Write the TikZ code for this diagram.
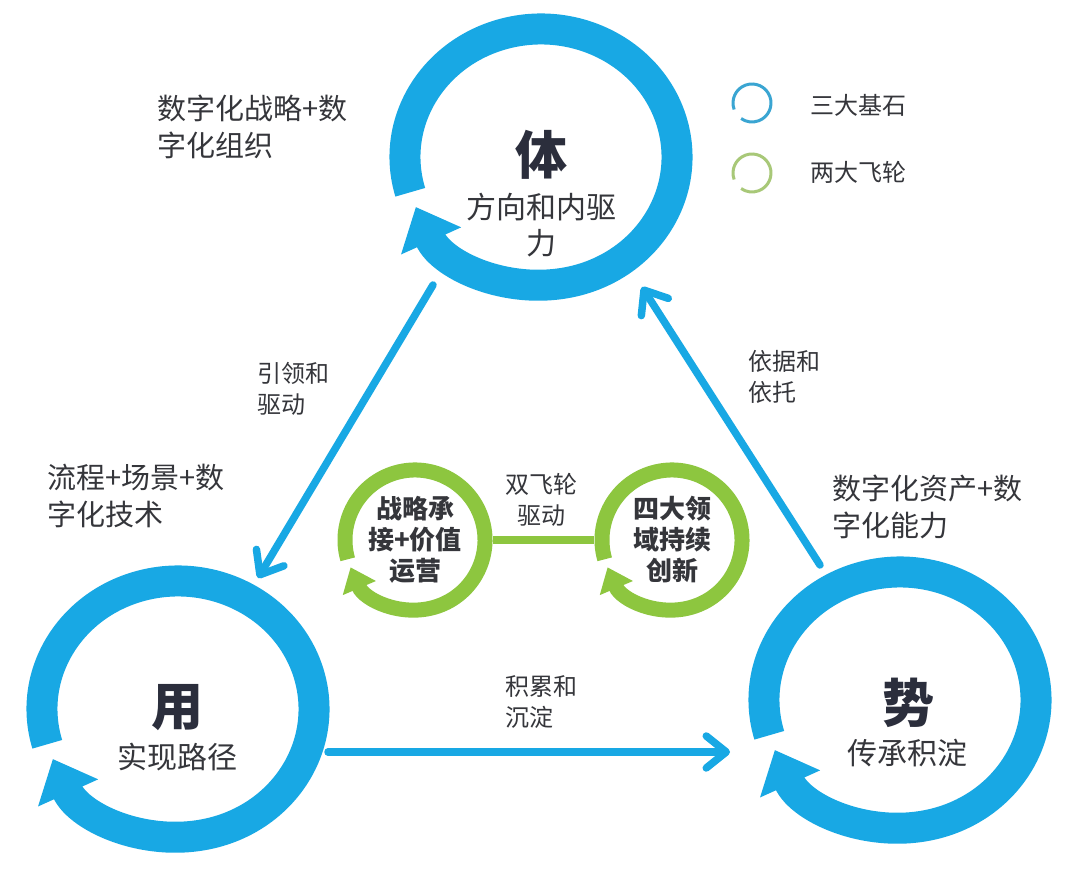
\documentclass[tikz,border=0pt]{standalone}
\usepackage{fontspec}
\setmainfont{Noto Sans CJK SC}
\usetikzlibrary{arrows.meta,calc}
\definecolor{Ink}{HTML}{35363B}
\definecolor{InkDark}{HTML}{2B2E3C}
\definecolor{Blue}{HTML}{18A8E4}
\definecolor{Green}{HTML}{8DC63F}
\definecolor{BlueSoft}{HTML}{3AA5D2}
\definecolor{GreenSoft}{HTML}{A8C878}
\tikzset{ring/.style={draw=Blue,line width=31pt,-{Triangle[length=0pt 1.2,width=0pt 2.05]}},wheel/.style={draw=Green,line width=15pt,-{Triangle[length=0pt 1.5,width=0pt 2.3]}},keyring/.style={line width=3pt},flow/.style={draw=Blue,line width=7.5pt,line cap=round,-{Straight Barb[round,length=20pt,width=32pt]}},bar/.style={draw=Green,line width=8pt},big/.style={font=\fontsize{52}{56}\selectfont\bfseries,text=InkDark,inner sep=0pt},sub/.style={font=\fontsize{30}{36}\selectfont,text=Ink,align=center,inner sep=0pt},side/.style={font=\fontsize{29}{37}\selectfont,text=Ink,align=left,anchor=west,inner sep=0pt},tag/.style={font=\fontsize{24}{31}\selectfont,text=Ink,align=left,anchor=west,inner sep=0pt},hub/.style={font=\fontsize{26}{31}\selectfont\bfseries,text=Ink,align=center,circle,minimum size=156pt,inner sep=0pt},key/.style={font=\fontsize{24}{28}\selectfont,text=Ink,anchor=west,inner sep=0pt}}

\begin{document}
\begin{tikzpicture}[x=1pt,y=1pt]
      \fill[white](0,0)rectangle(1080,874);\useasboundingbox(0,0)rectangle(1080,874);
      % three foundations
      \coordinate(ti)at(541,717);\coordinate(yong)at(178,165);\coordinate(shi)at(900,174);
      \draw[ring]($(ti)+(196:136 and 128)$)arc[start angle=196,end angle=-157,x radius=136,y radius=128];
      \draw[ring]($(yong)+(196:136 and 128)$)arc[start angle=196,end angle=-157,x radius=136,y radius=128];
      \draw[ring]($(shi)+(196:136 and 128)$)arc[start angle=196,end angle=-157,x radius=136,y radius=128];
      \node[big](ti-t)at(541,719){体};\node[sub](ti-s)at(541,649){方向和内驱\\力};
      \node[big](yong-t)at(177,166){用};\node[sub](yong-s)at(177,117){实现路径};
      \node[big](shi-t)at(908,171){势};\node[sub](shi-s)at(907,121){传承积淀};
      % links between them
      \coordinate(ti-out)at(433,589);\coordinate(yong-in)at(258,296);
      \coordinate(yong-out)at(328,122);\coordinate(shi-in)at(730,122);
      \coordinate(shi-out)at(820,309);\coordinate(ti-in)at(642,587);
      \draw[flow](ti-out)--(yong-in);\draw[flow](yong-out)--(shi-in);\draw[flow](shi-out)--(ti-in);
      \node[tag](lead)at(257,485){引领和\\驱动};
      \node[tag](base)at(505,172){积累和\\沉淀};
      \node[tag](rely)at(748,497){依据和\\依托};
      \node[side](ti-note)at(157,747){数字化战略+数\\字化组织};
      \node[side](yong-note)at(47,378){流程+场景+数\\字化技术};
      \node[side](shi-note)at(832,367){数字化资产+数\\字化能力};
      % two flywheels
      \node[hub](gl)at(415,334){战略承\\接+价值\\运营};
      \node[hub](gr)at(672,334){四大领\\域持续\\创新};
      \draw[wheel]($(gl)+(196:70)$)arc[start angle=196,end angle=-157,radius=70];
      \draw[wheel]($(gr)+(196:70)$)arc[start angle=196,end angle=-157,radius=70];
      \draw[bar](gl.east)--(gr.west);
      \node[tag,anchor=center,align=center](duo)at(541,374){双飞轮\\驱动};
      % legend
      \coordinate(k1)at(752,771);\coordinate(k2)at(752,701);
      \draw[keyring,draw=BlueSoft]($(k1)+(200:19)$)arc[start angle=200,end angle=-125,radius=19];
      \draw[keyring,draw=GreenSoft]($(k2)+(200:19)$)arc[start angle=200,end angle=-125,radius=19];
      \node[key](k1-t)at(810,769){三大基石};\node[key](k2-t)at(810,702){两大飞轮};
    \end{tikzpicture}
\end{document}
